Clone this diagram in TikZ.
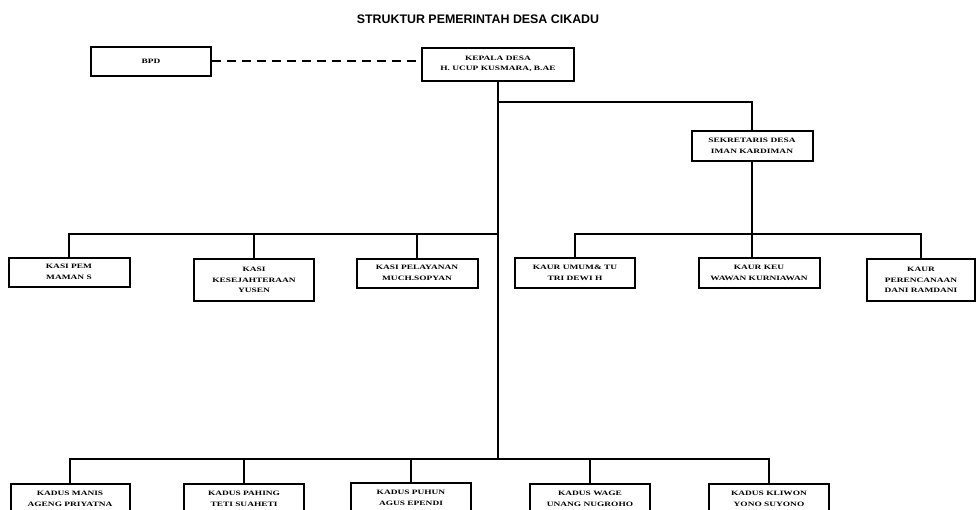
\documentclass[tikz,border=0pt]{standalone}
\usepackage{fontspec}
\newfontfamily\boxfont[FakeStretch=1.4]{Liberation Serif}
\newfontfamily\titlefont{Liberation Sans}

\begin{document}
\begin{tikzpicture}[x=1pt,y=-1pt,
  box/.style={draw,line width=2pt,inner sep=1pt,align=center,minimum width=120pt,minimum height=30pt,
    font=\boxfont\bfseries\fontsize{6.7}{10.5}\selectfont},
  link/.style={line width=1.8pt}]
\useasboundingbox (0,0) rectangle (976,509);
\clip (0,0) rectangle (976,509);
\node[font=\titlefont\bfseries\fontsize{12.4}{14}\selectfont] (title) at (478,19) {STRUKTUR PEMERINTAH DESA CIKADU};
\foreach \x/\y/\w/\h/\n/\t in {151/61/120/29/bpd/BPD, 498/64/152/33/kepala/{KEPALA DESA\\H. UCUP KUSMARA, B.AE},
    752/146/121/30/sek/{SEKRETARIS DESA\\IMAN KARDIMAN},
    69/272/121/29/kasipem/{KASI PEM\\MAMAN S}, 254/280/120/42/kasikes/{KASI\\KESEJAHTERAAN\\YUSEN},
    417/273/121/29/kasipel/{KASI PELAYANAN\\MUCH.SOPYAN},
    575/273/120/30/kaurumum/{KAUR UMUM\& TU\\TRI DEWI H}, 759/273/121/30/kaurkeu/{KAUR KEU\\WAWAN KURNIAWAN},
    921/280/108/42/kaurren/{KAUR\\PERENCANAAN\\DANI RAMDANI},
    70/499/119/31/kadus1/{KADUS MANIS\\AGENG PRIYATNA}, 244/499/120/31/kadus2/{KADUS PAHING\\TETI SUAHETI},
    411/498/120/31/kadus3/{KADUS PUHUN\\AGUS EPENDI}, 590/499/120/31/kadus4/{KADUS WAGE\\UNANG NUGROHO},
    769/499/120/31/kadus5/{KADUS KLIWON\\YONO SUYONO}}
  \node[box,minimum width=\w pt,minimum height=\h pt] (\n) at (\x,\y) {\t};
\coordinate (sekbus) at (0,102);
\coordinate (midbus) at (0,234);
\coordinate (kadusbus) at (0,459);
\draw[line width=2.4pt,dash pattern=on 9pt off 6pt] (bpd.east) -- (bpd.east -| kepala.west);
\draw[link] (kepala.south) -- (kepala.south |- kadusbus);
\draw[link] (kepala.south |- sekbus) -| (sek.north);
\foreach \n in {kasipem, kasikes, kasipel}
  \draw[link] (kepala.south |- midbus) -| (\n.north);
\draw[link] (sek.south) -- (sek.south |- kaurkeu.north);
\foreach \n in {kaurumum, kaurren}
  \draw[link] (sek.south |- midbus) -| (\n.north);
\foreach \n in {kadus1, kadus2, kadus3, kadus4, kadus5}
  \draw[link] (kepala.south |- kadusbus) -| (\n.north);

\end{tikzpicture}
\end{document}
